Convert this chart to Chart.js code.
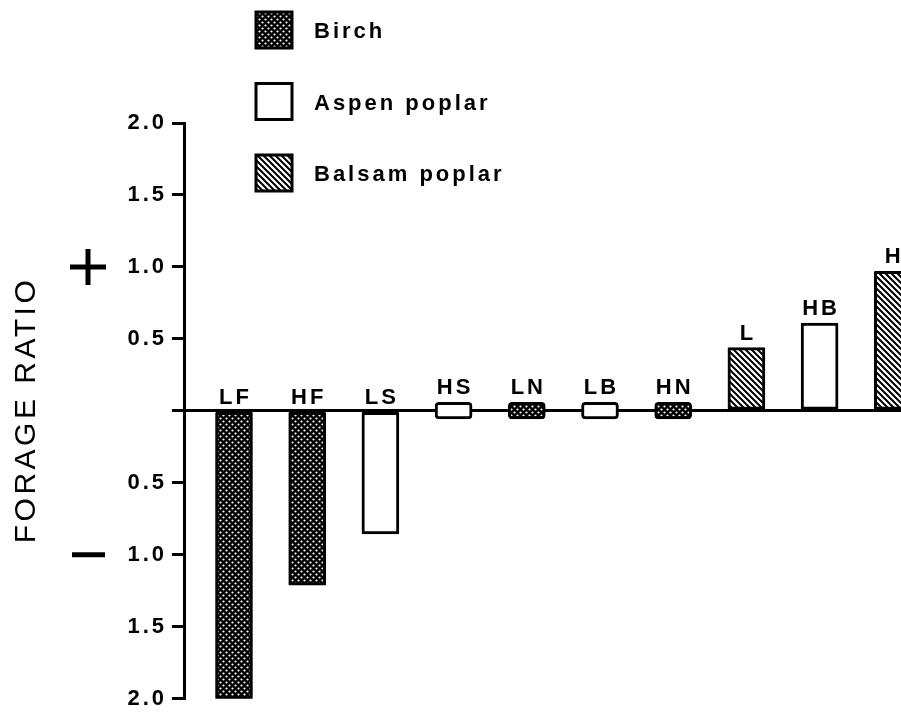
<!DOCTYPE html>
<html>
<head>
<meta charset="utf-8">
<script src="https://cdn.jsdelivr.net/npm/chart.js@4"></script>
<style>
  html, body { margin: 0; padding: 0; background: #fff; overflow: hidden; }
</style>
</head>
<body>
<canvas id="graficaForraje" width="901" height="717"></canvas>
<script>
// Datos
const categories = ["LF", "HF", "LS", "HS", "LN", "LB", "HN", "L", "HB", "H"];
const species = ["Birch", "Birch", "Aspen poplar", "Aspen poplar", "Birch", "Aspen poplar", "Birch", "Balsam poplar", "Aspen poplar", "Balsam poplar"];
const barLow = [-2.0, -1.21, -0.855, -0.055, -0.055, -0.055, -0.055, 0, 0, 0];
const barHigh = [0, 0, 0, 0.06, 0.06, 0.06, 0.06, 0.44, 0.61, 0.97];
const legendNames = ["Birch", "Aspen poplar", "Balsam poplar"];
const yTicks = [-2, -1.5, -1, -0.5, 0, 0.5, 1, 1.5, 2];

const FONT = "'Liberation Sans', Arial, Helvetica, sans-serif";
const SPACING = "3px";

// Tramas
function patronAbedul() {
  const c = document.createElement("canvas");
  c.width = 6; c.height = 6;
  const g = c.getContext("2d");
  g.fillStyle = "#000";
  g.fillRect(0, 0, 6, 6);
  g.fillStyle = "#fff";
  [[1.5, 1.5], [4.5, 4.5]].forEach(function (p) {
    g.beginPath();
    g.arc(p[0], p[1], 1.1, 0, Math.PI * 2);
    g.fill();
  });
  return g.createPattern(c, "repeat");
}
function patronBalsamo() {
  const c = document.createElement("canvas");
  c.width = 6; c.height = 6;
  const g = c.getContext("2d");
  g.fillStyle = "#fff";
  g.fillRect(0, 0, 6, 6);
  g.strokeStyle = "#000";
  g.lineWidth = 2;
  g.beginPath();
  g.moveTo(-1, -1); g.lineTo(7, 7);
  g.moveTo(-4, 2); g.lineTo(4, 10);
  g.moveTo(2, -4); g.lineTo(10, 4);
  g.stroke();
  return g.createPattern(c, "repeat");
}
const fills = {
  "Birch": patronAbedul(),
  "Aspen poplar": "#fff",
  "Balsam poplar": patronBalsamo(),
};

const datasets = legendNames.map(function (name) {
  return {
    label: name,
    data: categories
      .map(function (c, i) {
        return species[i] === name ? { x: i, y: [barLow[i], barHigh[i]] } : null;
      })
      .filter(Boolean),
    backgroundColor: fills[name],
    borderColor: "#000",
    borderWidth: 3,
    borderSkipped: false,
    borderRadius: function (ctx) {
      const r = ctx.raw;
      return r && r.y[0] < 0 && r.y[1] > 0 ? 4 : 1;
    },
    barThickness: 37,
    grouped: false,
  };
});

// Etiquetas sobre las barras, leyenda, título y signos
const extras = {
  id: "extras",
  beforeDraw: function (chart) {
    chart.ctx.letterSpacing = SPACING;
  },
  afterDraw: function (chart) {
    const ctx = chart.ctx;
    ctx.save();
    ctx.fillStyle = "#000";
    ctx.letterSpacing = SPACING;
    ctx.font = "bold 22px " + FONT;
    ctx.textAlign = "center";
    ctx.textBaseline = "alphabetic";
    chart.data.datasets.forEach(function (ds, di) {
      chart.getDatasetMeta(di).data.forEach(function (el, j) {
        const raw = ds.data[j];
        const top = Math.min(el.y, el.base);
        ctx.fillText(categories[raw.x], el.x + 1.5, top - 8);
      });
    });

    // leyenda
    ctx.textAlign = "left";
    ctx.textBaseline = "middle";
    legendNames.forEach(function (name, i) {
      const y = 12 + i * 71.5;
      ctx.fillStyle = fills[name];
      ctx.fillRect(256, y, 36, 36);
      ctx.strokeStyle = "#000";
      ctx.lineWidth = 3;
      ctx.strokeRect(256, y, 36, 36);
      ctx.fillStyle = "#000";
      ctx.fillText(name, 314, y + 20);
    });

    // título del eje
    const ys = chart.scales.y;
    ctx.save();
    ctx.translate(27, 412);
    ctx.rotate(-Math.PI / 2);
    ctx.letterSpacing = "3.5px";
    ctx.font = "30px " + FONT;
    ctx.textAlign = "center";
    ctx.textBaseline = "middle";
    ctx.fillText("FORAGE RATIO", 2, 0);
    ctx.restore();

    // signos + y -
    ctx.strokeStyle = "#000";
    ctx.lineWidth = 5;
    ctx.lineCap = "butt";
    const yp = ys.getPixelForValue(1);
    const yn = ys.getPixelForValue(-1);
    ctx.beginPath();
    ctx.moveTo(70, yp); ctx.lineTo(106, yp);
    ctx.moveTo(88, yp - 18); ctx.lineTo(88, yp + 18);
    ctx.moveTo(72, yn); ctx.lineTo(105, yn);
    ctx.stroke();
    ctx.restore();
  },
};

const ctxForraje = document.getElementById("graficaForraje").getContext("2d");
const graficaForraje = new Chart(ctxForraje, {
  type: "bar",
  data: { datasets: datasets },
  options: {
    responsive: false,
    animation: false,
    layout: { padding: { top: 123, bottom: 14, left: 0, right: 0 } },
    font: { family: FONT },
    scales: {
      x: {
        type: "linear",
        display: false,
        offset: false,
        min: -0.683,
        max: 9.112,
      },
      y: {
        min: -2,
        max: 2,
        afterFit: function (scale) {
          scale.width = 184;
        },
        afterBuildTicks: function (scale) {
          scale.ticks = yTicks.map(function (v) { return { value: v }; });
        },
        border: { display: true, color: "#000", width: 3 },
        grid: {
          drawOnChartArea: true,
          drawTicks: true,
          tickLength: 12,
          tickWidth: 3,
          tickColor: "#000",
          lineWidth: 3,
          color: function (c) {
            return c.tick && c.tick.value === 0 ? "#000" : "rgba(0,0,0,0)";
          },
        },
        ticks: {
          padding: 5,
          color: "#000",
          font: { family: FONT, size: 22, weight: "bold" },
          callback: function (value) {
            return value === 0 ? "" : Math.abs(value).toFixed(1);
          },
        },
      },
    },
    plugins: {
      legend: { display: false },
      tooltip: { enabled: false },
    },
  },
  plugins: [extras],
});
</script>
</body>
</html>
